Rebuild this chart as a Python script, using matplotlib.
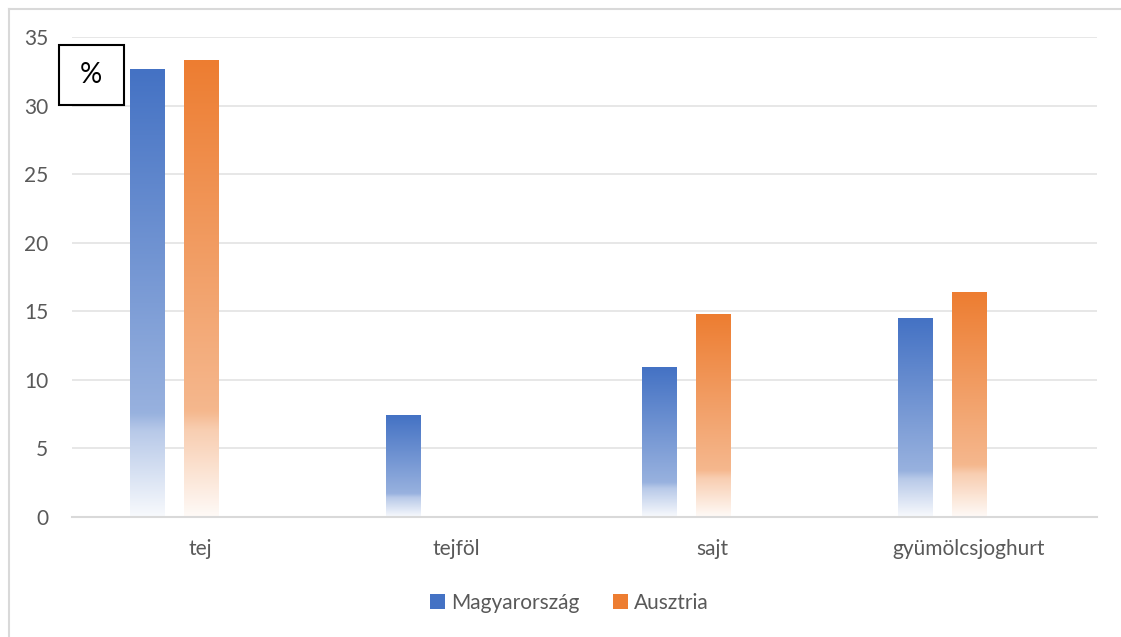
import numpy as np
import matplotlib
matplotlib.use("Agg")
import matplotlib.pyplot as plt
from matplotlib.colors import to_rgb
from matplotlib.patches import Rectangle, Patch
from matplotlib.lines import Line2D

plt.rcParams['font.family'] = ['Lato', 'DejaVu Sans']

# ---------------------------
# data
# ---------------------------
categories = ["tej", "tejföl", "sajt", "gyümölcsjoghurt"]
magyar = [32.6, 7.4, 10.9, 14.5]
ausztria = [33.3, np.nan, 14.8, 16.4]
series_names = ["Magyarország", "Ausztria"]
colors = ["#4472C4", "#ED7D31"]

# gradient profile: fraction of bar height from bottom -> strength of colour
grad_t = [0.0, 0.19, 0.23, 1.0]
grad_f = [0.04, 0.38, 0.55, 1.0]

fig = plt.figure(figsize=(11.21, 6.37), dpi=100)
ax = fig.add_axes([72/1121, 1 - 517/637, (1097 - 72)/1121, (517 - 37)/637])

width = 34/256
offsets = [-53.5/256, 0.5/256]
x = np.arange(len(categories))


def grad_bar(ax, xc, h, color):
    if np.isnan(h) or h <= 0:
        return
    n = 200
    t = np.linspace(1, 0, n)
    f = np.interp(t, grad_t, grad_f)
    rgb = np.array(to_rgb(color))
    img = f[:, None] * rgb[None, :] + (1 - f[:, None])
    img = img[:, None, :]
    ax.imshow(img, extent=[xc - width/2, xc + width/2, 0, h],
              aspect='auto', interpolation='bilinear', zorder=3)


for vals, off, c in zip([magyar, ausztria], offsets, colors):
    for xi, v in zip(x, vals):
        grad_bar(ax, xi + off, v, c)

ax.set_xlim(-0.5, 3.5)
ax.set_ylim(0, 35)
ax.set_yticks(np.arange(0, 36, 5))
ax.set_xticks(x)
ax.set_xticklabels(categories)
ax.tick_params(axis='both', length=0, labelsize=15, colors='#595959')
ax.tick_params(axis='y', pad=17)
ax.tick_params(axis='x', pad=16)
ax.grid(axis='y', color='#e3e3e3', linewidth=1.2, zorder=0)
ax.set_axisbelow(True)
for s in ['top', 'right', 'left']:
    ax.spines[s].set_visible(False)
ax.spines['bottom'].set_color('#d9d9d9')
ax.spines['bottom'].set_linewidth(1.5)
ax.spines['bottom'].set_zorder(4)

# "%" box
fig.patches.append(Rectangle((59/1121, 1 - 105/637), 65/1121, 60/637,
                             transform=fig.transFigure, fill=True, fc='white',
                             ec='black', lw=1.5, zorder=5))
fig.text(91/1121, 1 - 75/637, "%", ha='center', va='center', fontsize=20,
         color='black', zorder=6)

# legend
handles = [Patch(facecolor=c, edgecolor='none') for c in colors]
fig.legend(handles, series_names, loc='center', bbox_to_anchor=(0.508, 1 - 603/637),
           ncol=2, frameon=False, fontsize=15, handlelength=0.7,
           handleheight=0.7, handletextpad=0.3, columnspacing=1.6,
           labelcolor='#595959')

# outer frame
fig.add_artist(Line2D([8.5/1121, 1], [1 - 8.5/637, 1 - 8.5/637],
                      transform=fig.transFigure, color='#d9d9d9', lw=1.5))
fig.add_artist(Line2D([8.5/1121, 8.5/1121], [0, 1 - 8.5/637],
                      transform=fig.transFigure, color='#d9d9d9', lw=1.5))

fig.savefig("out.png", dpi=100)
